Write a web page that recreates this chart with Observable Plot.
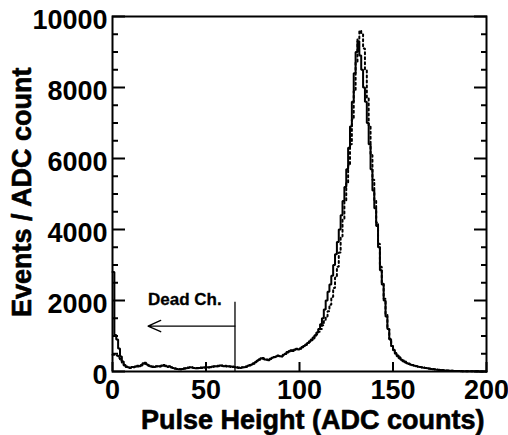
<!DOCTYPE html>
<html><head><meta charset="utf-8">
<script src="https://cdn.jsdelivr.net/npm/d3@7"></script>
<script src="https://cdn.jsdelivr.net/npm/@observablehq/plot@0.6"></script>
<style>body{margin:0;background:#fff}</style>
</head><body><div id="chart"></div>
<script>
// Bin low edges (ADC counts), 1-count bins from 0 to 199
const binLow = d3.range(0, 200);
const binUpper = 200;

// Measured pulse height spectrum (solid)
const dataCounts = [
  2800,1030,900,650,420,280,180,140,120,110,
  130,120,140,160,150,180,230,250,200,170,
  140,130,130,140,150,140,160,180,160,140,
  150,120,100,80,70,60,60,70,80,90,
  110,120,110,100,90,100,100,110,110,110,
  120,110,120,140,140,150,160,170,160,150,
  150,150,140,140,130,120,110,110,100,110,
  120,140,160,180,200,230,260,300,340,370,
  380,340,330,320,360,390,400,420,450,430,
  420,470,500,550,560,600,580,620,640,620,
  650,690,720,760,800,850,900,960,1020,1100,
  1200,1330,1500,1750,2000,2250,2450,2700,3000,3300,
  3650,4000,4400,4800,5200,5700,6300,6900,7600,8400,
  9000,9300,8900,8500,8000,7600,7000,6400,5700,5100,
  4600,4100,3500,2850,2450,2000,1550,1200,900,720,
  600,500,430,370,330,290,260,235,210,190,
  175,160,145,135,125,115,108,100,90,80,
  72,65,58,50,45,40,35,30,25,22,
  20,18,16,14,12,11,10,9,8,7,
  6,5,5,4,4,4,3,3,3,3
];

// Comparison spectrum (dotted)
const simCounts = [
  470,470,450,380,300,220,170,130,110,100,
  120,130,150,140,160,170,200,220,190,160,
  150,140,130,150,140,150,170,160,150,130,
  140,110,100,90,70,70,60,80,90,100,
  100,110,120,100,100,90,110,100,120,110,
  110,120,130,130,150,140,150,160,170,150,
  160,140,150,130,140,130,120,100,110,120,
  130,130,170,170,210,220,270,290,330,350,
  360,350,340,330,350,380,410,410,440,440,
  430,460,490,530,570,580,600,610,630,630,
  640,680,720,750,790,830,880,930,990,1050,
  1120,1200,1300,1420,1550,1700,1880,2100,2350,2650,
  2950,3350,3800,4300,4800,5300,5800,6400,7100,7900,
  8700,9350,9600,9500,9100,8500,7700,6900,6100,5400,
  4800,4200,3600,2950,2500,2050,1600,1200,920,720,
  610,520,450,400,350,310,280,250,225,205,
  185,170,155,140,130,120,110,100,92,85,
  78,70,63,57,50,45,40,35,30,27,
  24,21,18,16,14,12,11,10,9,8,
  7,6,6,5,5,4,4,3,3,3
];

// Axis ticks
const xTicks = [0, 50, 100, 150, 200];
const yMajor = [0, 2000, 4000, 6000, 8000, 10000];
const yMinor = [500,1000,1500,2500,3000,3500,4500,5000,5500,6500,7000,7500,8500,9000,9500];

// Annotation
const deadLabel = "Dead Ch.";
const deadCut = 65.5;
const deadLineTop = 1950;
const arrowRows = [{from: 65.5, to: 19, y: 1280}];
const labelRows = [{x: 19, y: 1870, text: deadLabel}];

const xTitle = "Pulse Height (ADC counts)";
const yTitle = "Events / ADC count";

function hist(counts) {
  const rows = binLow.map((x, i) => ({x, y: counts[i]}));
  rows.push({x: binUpper, y: counts[counts.length - 1]});
  return rows;
}

const font = "'Liberation Sans', Arial, Helvetica, sans-serif";
const heavy = {fontWeight: "bold", fill: "black", stroke: "black", strokeWidth: 0.6};

const chart = Plot.plot({
  width: 508,
  height: 435,
  marginLeft: 112,
  marginRight: 22,
  marginTop: 16,
  marginBottom: 64,
  style: {fontFamily: font, fontWeight: "bold", color: "black", background: "white"},
  x: {domain: [0, 200], label: null},
  y: {domain: [0, 10000], label: null},
  marks: [
    Plot.line(hist(simCounts), {x: "x", y: "y", curve: "step-after", stroke: "black", strokeWidth: 2, strokeDasharray: "2,3", strokeLinejoin: "miter"}),
    Plot.line(hist(dataCounts), {x: "x", y: "y", curve: "step-after", stroke: "black", strokeWidth: 2, strokeLinejoin: "miter"}),
    Plot.ruleX([deadCut], {y1: 0, y2: deadLineTop, stroke: "black", strokeWidth: 1.3}),
    Plot.arrow(arrowRows, {x1: "from", x2: "to", y1: "y", y2: "y", stroke: "black", strokeWidth: 1.3, headLength: 16, headAngle: 48}),
    Plot.text(labelRows, {x: "x", y: "y", text: "text", textAnchor: "start", lineAnchor: "bottom", fontSize: 17, ...heavy, strokeWidth: 0.3}),
    // y axis: inward ticks left and right
    Plot.axisY(yMajor, {anchor: "left", tickSize: -13, strokeWidth: 2, tickFormat: () => "", label: null}),
    Plot.axisY(yMinor, {anchor: "left", tickSize: -6, strokeWidth: 2, tickFormat: () => "", label: null}),
    Plot.axisY(yMajor, {anchor: "right", tickSize: -13, strokeWidth: 2, tickFormat: () => "", label: null}),
    Plot.axisY(yMinor, {anchor: "right", tickSize: -6, strokeWidth: 2, tickFormat: () => "", label: null}),
    Plot.axisY(yMajor, {anchor: "left", tickSize: 0, tickPadding: 5, dy: 4, fontSize: 27, ...heavy, tickFormat: d => String(d), label: null}),
    // x axis
    Plot.axisX(xTicks, {anchor: "bottom", tickSize: -9, strokeWidth: 2, tickFormat: () => "", label: null}),
    Plot.axisX(xTicks, {anchor: "bottom", tickSize: 0, tickPadding: 8, fontSize: 27, ...heavy, tickFormat: d => String(d), label: null}),
    Plot.frame({stroke: "black", strokeWidth: 2}),
    Plot.text([xTitle], {frameAnchor: "bottom-right", textAnchor: "end", lineAnchor: "bottom", dx: -2, dy: 57, fontSize: 27, ...heavy}),
    Plot.text([yTitle], {frameAnchor: "top-left", rotate: -90, textAnchor: "end", lineAnchor: "bottom", dx: -82, dy: 51, fontSize: 27, ...heavy})
  ]
});
document.getElementById("chart").appendChild(chart);
</script>
</body></html>
